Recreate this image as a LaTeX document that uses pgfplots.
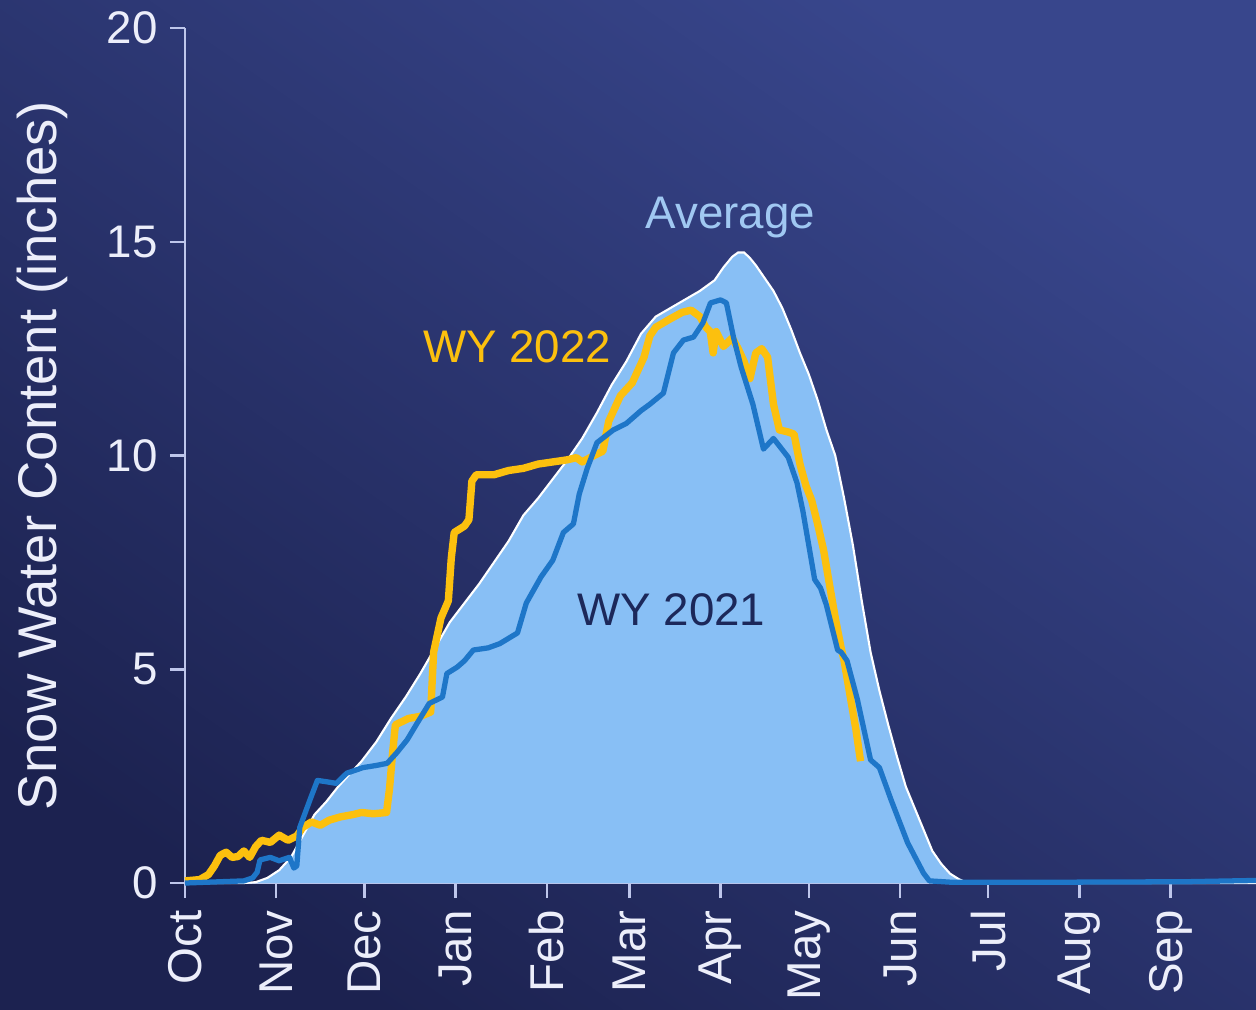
\documentclass[border=0pt]{standalone}
\usepackage{fontspec}
\setmainfont{Liberation Sans}
\usepackage{pgfplots}
\usepackage{pgfplotstable}
\pgfplotsset{compat=1.18}
\pgfdeclarelayer{background}
\pgfsetlayers{background,main}

\definecolor{avgfill}{RGB}{136,191,245}
\definecolor{gold}{RGB}{252,192,14}
\definecolor{wyblue}{RGB}{30,118,200}
\definecolor{avgtext}{RGB}{160,200,242}
\definecolor{darktext}{RGB}{28,40,90}
\definecolor{axiscol}{RGB}{190,198,235}
\definecolor{ticktext}{RGB}{236,238,250}
\definecolor{bgdark}{RGB}{28,34,80}
\definecolor{bglight}{RGB}{56,70,140}

\pgfplotstableread{
day swe
0 0
20 0
24 0.02
28 0.12
32 0.3
36 0.6
40 1.1
44 1.6
48 1.9
52 2.25
56 2.55
60 2.85
65 3.3
70 3.85
75 4.35
80 4.9
85 5.5
90 6.1
95 6.55
100 7.0
105 7.5
110 8.0
115 8.6
120 9.0
125 9.45
130 9.9
135 10.4
140 11.0
145 11.65
150 12.2
155 12.85
160 13.25
165 13.45
170 13.65
175 13.85
180 14.1
183 14.4
186 14.65
188 14.75
190 14.75
192 14.62
194 14.45
197 14.15
200 13.85
203 13.45
206 12.95
209 12.4
212 11.9
215 11.3
218 10.6
221 10.0
224 9.0
227 7.9
230 6.6
233 5.4
236 4.5
239 3.7
242 2.95
245 2.25
248 1.75
251 1.25
254 0.75
257 0.45
260 0.22
263 0.09
266 0
364 0
}\avgtab

\pgfplotstableread{
day swe
0 0.05
5 0.08
8 0.2
10 0.4
12 0.65
14 0.72
16 0.6
18 0.62
20 0.75
22 0.6
24 0.85
26 1.0
29 0.95
32 1.12
35 1.0
38 1.1
40 1.3
43 1.43
46 1.35
49 1.47
53 1.55
57 1.6
60 1.65
64 1.62
68.5 1.65
69.5 2.2
70.5 3.0
71.5 3.7
76 3.85
80 3.9
83.5 4.0
84.5 5.4
87 6.2
89.5 6.6
90.5 7.6
91.5 8.2
95 8.35
96.5 8.5
97.5 9.4
99 9.55
105 9.55
110 9.65
115 9.7
120 9.8
125 9.85
130 9.9
133 9.95
135 9.85
139 10.0
142 10.1
144 10.8
146 11.1
148 11.4
152 11.7
154 12.0
156 12.3
158 12.8
160 13.0
165 13.2
169 13.35
172 13.4
175 13.25
177 13.0
178.5 12.9
179.5 12.4
180.5 12.9
183 12.55
186 12.75
188 12.5
190 12.2
192 11.8
194 12.4
196 12.5
198 12.3
200 11.2
202 10.6
205 10.55
207 10.5
209 9.8
211 9.3
213 8.95
215 8.4
217 7.8
219 7.0
221 6.2
223 5.5
224 5.2
226 4.4
228 3.6
229.6 2.85
}\wyb

\pgfplotstableread{
day swe
0 0
20 0.05
23 0.12
24.5 0.25
25.5 0.54
29 0.6
32 0.52
35.5 0.6
37 0.35
38 0.4
39 1.3
42.5 1.95
45 2.4
48 2.37
51.5 2.33
55 2.57
60.5 2.7
65 2.75
68.7 2.8
72 3.05
75.5 3.35
79 3.75
83 4.2
87.5 4.35
89 4.9
92.5 5.05
95 5.2
98 5.45
103 5.5
107 5.6
113 5.85
116 6.55
121 7.16
125 7.55
128.6 8.2
132 8.4
134 9.1
136.7 9.7
140 10.3
145.6 10.6
150 10.75
155 11.05
158 11.2
162.6 11.46
166 12.4
169.4 12.7
172.8 12.77
176 13.1
178.6 13.57
182 13.64
184 13.57
186.4 12.77
189 12.07
193 11.2
196.6 10.15
200 10.4
205 9.96
208 9.36
210 8.7
212 7.9
214 7.1
216 6.9
218 6.5
221.8 5.45
223 5.4
225 5.2
228.5 4.3
233 2.88
236 2.7
240 1.94
245.6 0.94
251 0.23
253 0.05
260 0.02
300 0.02
340 0.03
364 0.06
}\wya

\begin{document}
\begin{tikzpicture}
\begin{axis}[
  scale only axis,
  width=10.71cm, height=8.55cm,
  xmin=0, xmax=364, ymin=0, ymax=20,
  clip=false,
  axis x line*=bottom, axis y line*=left,
  axis line style={axiscol, line width=0.7pt},
  tick style={axiscol, line width=0.7pt},
  tick align=outside,
  major tick length=0.15cm,
  xtick={0,31,61,92,123,151,182,212,243,273,304,335},
  xticklabels={Oct,Nov,Dec,Jan,Feb,Mar,Apr,May,Jun,Jul,Aug,Sep},
  xticklabel style={rotate=90, anchor=east, font=\fontsize{13.5}{15}\selectfont, text=ticktext},
  ytick={0,5,10,15,20},
  yticklabel style={font=\fontsize{13}{15}\selectfont, text=ticktext},
  /pgf/number format/assume math mode=true,
  ylabel={Snow Water Content (inches)},
  every axis y label/.style={at={(rel axis cs:0,0.5)}, xshift=-1.43cm, rotate=90, anchor=center,
    font=\fontsize{15.5}{17}\selectfont, text=ticktext},
]
\coordinate (BL) at (rel axis cs:0,0);
\coordinate (TR) at (rel axis cs:1,1);
\addplot[fill=avgfill, draw=none] table[x=day,y=swe]{\avgtab} \closedcycle;
\addplot[white, line width=0.6pt] table[x=day,y=swe]{\avgtab};
\addplot[gold, line width=2.1pt, line join=round] table[x=day,y=swe]{\wyb};
\addplot[wyblue, line width=1.5pt, line join=round] table[x=day,y=swe]{\wya};
\node[text=avgtext, font=\fontsize{13}{15}\selectfont] at (axis cs:185.4,15.56) {Average};
\node[text=gold, font=\fontsize{13}{15}\selectfont] at (axis cs:112.9,12.54) {WY 2022};
\node[text=darktext, font=\fontsize{13}{15}\selectfont] at (axis cs:165.3,6.39) {WY 2021};
\end{axis}
\begin{pgfonlayer}{background}
\shade[shading=axis, bottom color=bgdark, top color=bglight, shading angle=-35]
  ([shift={(-1.85cm,-1.26cm)}]BL) rectangle ([shift={(0,0.28cm)}]TR);
\end{pgfonlayer}
\pgfresetboundingbox
\path[use as bounding box] ([shift={(-1.85cm,-1.26cm)}]BL) rectangle ([shift={(0,0.28cm)}]TR);
\end{tikzpicture}
\end{document}
